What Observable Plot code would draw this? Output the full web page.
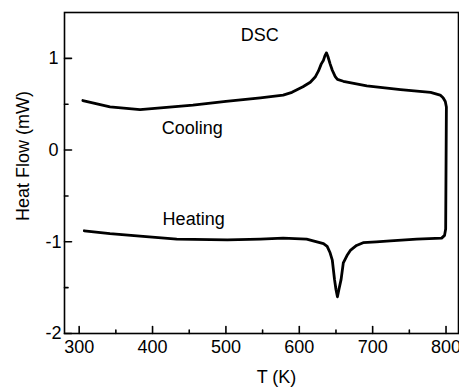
<!DOCTYPE html>
<html>
<head>
<meta charset="utf-8">
<script src="https://cdn.jsdelivr.net/npm/d3@7"></script>
<script src="https://cdn.jsdelivr.net/npm/@observablehq/plot@0.6"></script>
<style>
  html, body { margin: 0; padding: 0; background: #fff; }
  #chart svg { display: block; }
</style>
</head>
<body>
<div id="chart"></div>
<script>
// Heating run (T ascending)
const heatT = [307, 342, 387, 433, 502, 547, 578, 610, 624, 633, 638, 642, 645, 648, 650, 652, 654, 657, 660, 665, 670, 678, 687, 705, 724, 760, 794, 798, 799.5];
const heatY = [-0.88, -0.91, -0.94, -0.97, -0.98, -0.97, -0.96, -0.97, -1.0, -1.02, -1.05, -1.12, -1.20, -1.41, -1.52, -1.60, -1.52, -1.41, -1.23, -1.15, -1.09, -1.04, -1.01, -1.00, -0.99, -0.97, -0.96, -0.93, -0.86];
// Cooling run (T descending)
const coolT = [800.5, 799, 796, 792, 779, 738, 692, 660, 652, 649, 645, 642, 639, 637, 635, 633, 630, 626, 622, 615, 605, 590, 578, 547, 500, 455, 383, 342, 305];
const coolY = [0.47, 0.53, 0.57, 0.60, 0.63, 0.66, 0.70, 0.75, 0.77, 0.80, 0.87, 0.94, 1.02, 1.06, 1.03, 0.98, 0.94, 0.86, 0.80, 0.74, 0.69, 0.63, 0.60, 0.57, 0.53, 0.49, 0.44, 0.47, 0.54];

const xMajor = [300, 400, 500, 600, 700, 800];
const xMinor = [350, 450, 550, 650, 750];
const yMajor = [-2, -1, 0, 1];
const yMinor = [-1.5, -0.5, 0.5];

const labels = [
  {T: 546, v: 1.25, text: "DSC"},
  {T: 454, v: 0.24, text: "Cooling"},
  {T: 456, v: -0.75, text: "Heating"}
];

const curve = [
  ...heatT.map((t, i) => ({T: t, v: heatY[i]})),
  ...coolT.map((t, i) => ({T: t, v: coolY[i]}))
];

const tickShapeUp = {draw(ctx, l) { ctx.moveTo(0, 0); ctx.lineTo(0, -l); }};

const font = "Liberation Sans, Arial, Helvetica, sans-serif";
const fs = 18;

const chart = Plot.plot({
  width: 459,
  height: 388,
  marginLeft: 64,
  marginRight: 1,
  marginTop: 12,
  marginBottom: 55,
  style: {fontFamily: font, fontSize: fs + "px", color: "#000", background: "#fff"},
  x: {domain: [280, 817]},
  y: {domain: [-2, 1.5]},
  marks: [
    Plot.frame({stroke: "#000", strokeWidth: 1.6}),
    Plot.axisX(xMajor, {tickSize: 0, tickPadding: 7, fontSize: fs, label: null, textAnchor: "middle", tickFormat: d => String(d)}),
    Plot.axisY(yMajor, {tickSize: 0, tickPadding: 0, dx: -11, textAnchor: "middle", fontSize: fs, label: null, tickFormat: d => String(d)}),
    Plot.vector(xMajor, {x: d => d, frameAnchor: "bottom", length: 7, rotate: 0, anchor: "start", shape: tickShapeUp, stroke: "#000", strokeWidth: 1.6}),
    Plot.vector(xMinor, {x: d => d, frameAnchor: "bottom", length: 3.5, rotate: 0, anchor: "start", shape: tickShapeUp, stroke: "#000", strokeWidth: 1.6}),
    Plot.vector(yMajor, {y: d => d, frameAnchor: "left", length: 7, rotate: 90, anchor: "start", shape: tickShapeUp, stroke: "#000", strokeWidth: 1.6}),
    Plot.vector(yMinor, {y: d => d, frameAnchor: "left", length: 3.5, rotate: 90, anchor: "start", shape: tickShapeUp, stroke: "#000", strokeWidth: 1.6}),
    Plot.line(curve, {x: "T", y: "v", stroke: "#000", strokeWidth: 2.8, strokeLinejoin: "round", strokeLinecap: "round"}),
    Plot.text(labels, {x: "T", y: "v", text: "text", fontSize: fs, fill: "#000"}),
    Plot.text(["T (K)"], {frameAnchor: "bottom", textAnchor: "middle", lineAnchor: "middle", dy: 44, dx: 15, fontSize: fs, fill: "#000"}),
    Plot.text(["Heat Flow (mW)"], {frameAnchor: "left", textAnchor: "middle", lineAnchor: "middle", dx: -41, dy: -17, rotate: -90, fontSize: fs, fill: "#000"})
  ]
});
document.getElementById("chart").appendChild(chart);
</script>
</body>
</html>
